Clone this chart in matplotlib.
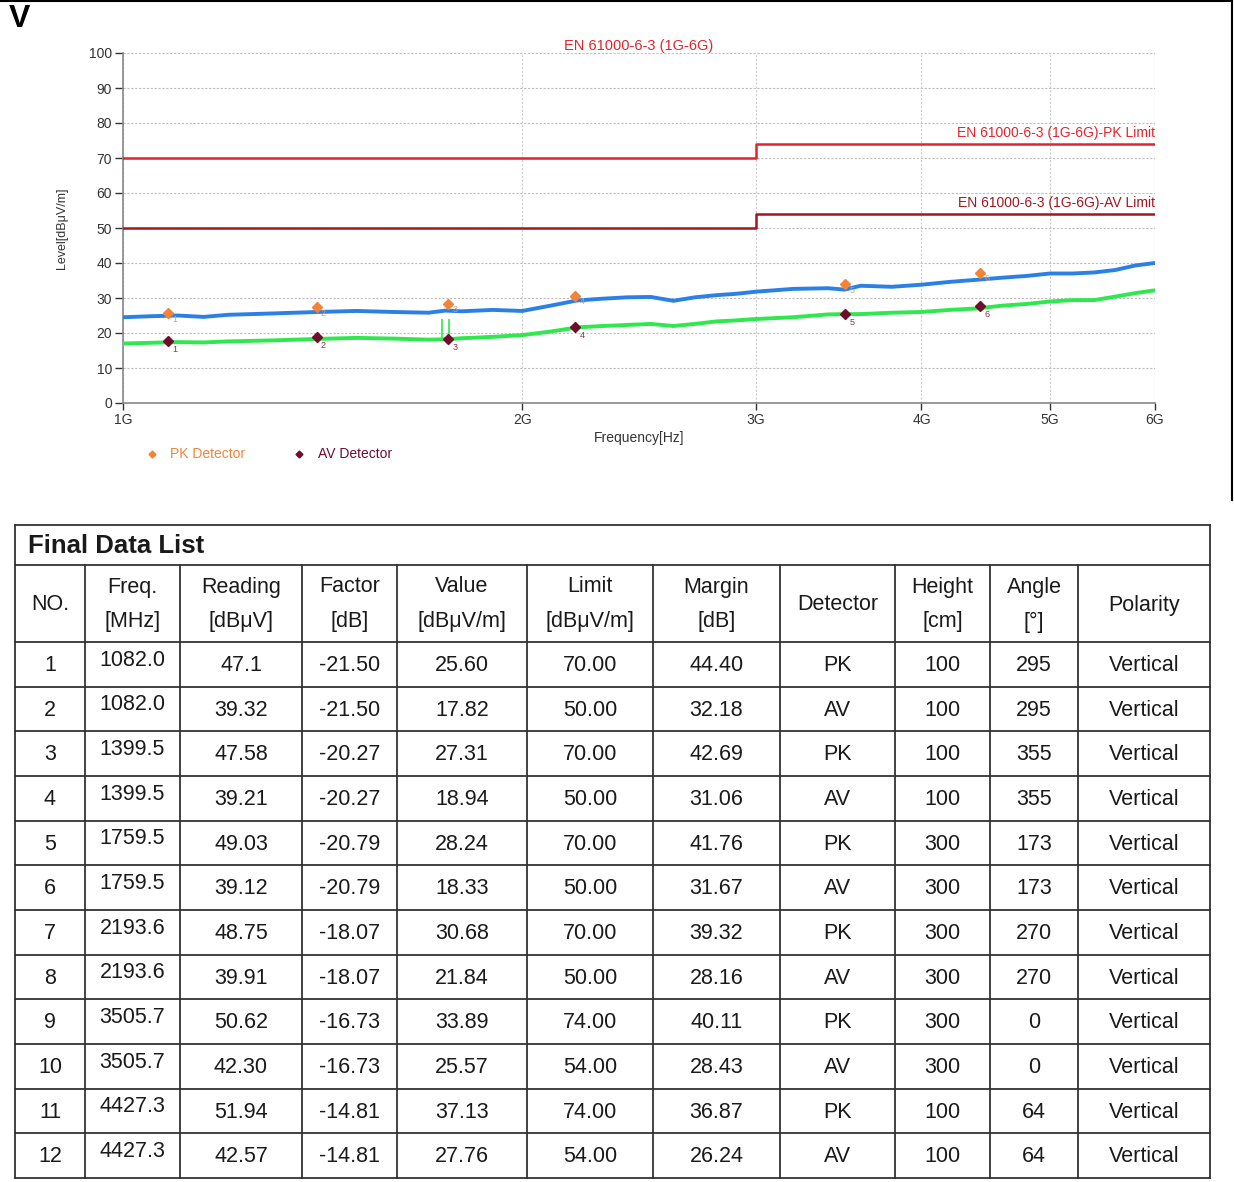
import numpy as np
import matplotlib
matplotlib.use("Agg")
import matplotlib.pyplot as plt

plt.rcParams['font.family'] = ['Liberation Sans', 'DejaVu Sans']

# ---- chart data ----
trace_freq = [1.00, 1.05, 1.10, 1.15, 1.20, 1.30, 1.40, 1.50, 1.60, 1.70, 1.75, 1.80, 1.90,
              2.00, 2.10, 2.20, 2.30, 2.40, 2.50, 2.60, 2.70, 2.80, 2.90, 3.00, 3.20, 3.40,
              3.50, 3.60, 3.80, 4.00, 4.20, 4.40, 4.60, 4.80, 5.00, 5.20, 5.40, 5.60, 5.80,
              6.00]
pk_trace = [24.5, 24.8, 25.0, 24.6, 25.2, 25.6, 26.0, 26.3, 26.0, 25.8, 26.4, 26.2, 26.6,
            26.3, 27.8, 29.3, 29.8, 30.2, 30.3, 29.2, 30.2, 30.8, 31.2, 31.8, 32.6, 32.8,
            32.4, 33.5, 33.2, 33.8, 34.6, 35.2, 35.8, 36.3, 37.0, 37.0, 37.3, 38.0, 39.3,
            40.0]
av_trace = [17.0, 17.2, 17.4, 17.3, 17.6, 17.9, 18.3, 18.6, 18.4, 18.1, 18.2, 18.5, 18.9,
            19.4, 20.4, 21.6, 22.0, 22.3, 22.6, 22.0, 22.6, 23.3, 23.6, 24.0, 24.5, 25.3,
            25.4, 25.4, 25.8, 26.0, 26.6, 27.0, 27.8, 28.3, 29.0, 29.4, 29.4, 30.4, 31.4,
            32.2]
# narrow spikes seen on the traces
av_spike_freq = [1.739, 1.760]
av_spike_top = [24.0, 24.0]
pk_spike_freq = [1.760]
pk_spike_top = [28.0]

limit_freq = [1.0, 3.0, 3.0, 6.0]
pk_limit = [70, 70, 74, 74]
av_limit = [50, 50, 54, 54]

pk_freq = [1.0820, 1.3995, 1.7595, 2.1936, 3.5057, 4.4273]
pk_level = [25.60, 27.31, 28.24, 30.68, 33.89, 37.13]
av_freq = [1.0820, 1.3995, 1.7595, 2.1936, 3.5057, 4.4273]
av_level = [17.82, 18.94, 18.33, 21.84, 25.57, 27.76]

# ---- table data ----
col_no = [str(i) for i in range(1, 13)]
col_freq = ["1082.0", "1082.0", "1399.5", "1399.5", "1759.5", "1759.5",
            "2193.6", "2193.6", "3505.7", "3505.7", "4427.3", "4427.3"]
col_reading = ["47.1", "39.32", "47.58", "39.21", "49.03", "39.12",
               "48.75", "39.91", "50.62", "42.30", "51.94", "42.57"]
col_factor = ["-21.50", "-21.50", "-20.27", "-20.27", "-20.79", "-20.79",
              "-18.07", "-18.07", "-16.73", "-16.73", "-14.81", "-14.81"]
col_value = ["25.60", "17.82", "27.31", "18.94", "28.24", "18.33",
             "30.68", "21.84", "33.89", "25.57", "37.13", "27.76"]
col_limit = ["70.00", "50.00", "70.00", "50.00", "70.00", "50.00",
             "70.00", "50.00", "74.00", "54.00", "74.00", "54.00"]
col_margin = ["44.40", "32.18", "42.69", "31.06", "41.76", "31.67",
              "39.32", "28.16", "40.11", "28.43", "36.87", "26.24"]
col_detector = ["PK", "AV"] * 6
col_height = ["100", "100", "100", "100", "300", "300", "300", "300", "300", "300", "100", "100"]
col_angle = ["295", "295", "355", "355", "173", "173", "270", "270", "0", "0", "64", "64"]
col_polarity = ["Vertical"] * 12
headers = [("NO.",), ("Freq.", "[MHz]"), ("Reading", "[dBμV]"), ("Factor", "[dB]"),
           ("Value", "[dBμV/m]"), ("Limit", "[dBμV/m]"), ("Margin", "[dB]"), ("Detector",),
           ("Height", "[cm]"), ("Angle", "[°]"), ("Polarity",)]

W, H = 1234, 1182
fig = plt.figure(figsize=(W / 100, H / 100), dpi=100)

# overlay axes in pixel coordinates for the table and loose text
ov = fig.add_axes([0, 0, 1, 1])
ov.set_xlim(0, W)
ov.set_ylim(H, 0)
ov.axis('off')

# chart axes
ax = fig.add_axes([123 / W, 1 - 403 / H, 1032 / W, 350 / H])
ax.set_xscale('log')
ax.set_xlim(1.0, 6.0)
ax.set_ylim(0, 100)

blue, green = '#2b80e6', '#2ee84e'
ax.plot(trace_freq, pk_trace, color=blue, lw=2.8, zorder=3)
ax.plot(trace_freq, av_trace, color=green, lw=2.8, zorder=3)
ax.vlines(av_spike_freq, 18.2, av_spike_top, color=green, lw=1.2, zorder=3)
ax.vlines(pk_spike_freq, 26.2, pk_spike_top, color=blue, lw=1.2, zorder=3)
ax.plot(limit_freq, pk_limit, color='#e3242b', lw=1.8, zorder=4)
ax.plot(limit_freq, av_limit, color='#a3161f', lw=1.8, zorder=4)

ax.plot(pk_freq, pk_level, 'D', color='#f2843a', ms=5.5, ls='none', zorder=5)
ax.plot(av_freq, av_level, 'D', color='#6e0d2c', ms=5.5, ls='none', zorder=5)
for i, (f, v) in enumerate(zip(av_freq, av_level)):
    ax.annotate(str(i + 1), (f, v), xytext=(3, -8), textcoords='offset points',
                fontsize=6.5, color='#8a3050', zorder=6)
    ax.annotate(str(i + 1), (pk_freq[i], pk_level[i]), xytext=(3, -6),
                textcoords='offset points', fontsize=6.5, color='#c8a090', zorder=6)

ax.set_xticks([1, 2, 3, 4, 5, 6])
ax.set_xticklabels(['1G', '2G', '3G', '4G', '5G', '6G'])
ax.xaxis.set_minor_locator(matplotlib.ticker.NullLocator())
ax.set_yticks(range(0, 101, 10))
ax.tick_params(axis='both', labelsize=10, colors='#333333', length=6, width=1)
ax.tick_params(axis='x', pad=2, length=5)
ax.tick_params(axis='y', pad=2)
ax.grid(axis='y', color='#bdbdbd', ls=(0, (2, 1.5)), lw=0.8)
ax.grid(axis='x', color='#cccccc', ls=(0, (2, 1.5)), lw=0.8)
for s in ['top', 'right']:
    ax.spines[s].set_visible(False)
for s in ['left', 'bottom']:
    ax.spines[s].set_color('#888888')
    ax.spines[s].set_linewidth(1.2)
ax.axvline(6.0, color='#dddddd', lw=0.8)

ax.set_xlabel('Frequency[Hz]', fontsize=10, color='#333333', labelpad=3)
ax.set_ylabel('Level[dBμV/m]', fontsize=9, color='#333333', labelpad=15)
ax.set_title('EN 61000-6-3 (1G-6G)', fontsize=10.5, color='#e3242b', pad=2)
ax.text(6.0, 77.2, 'EN 61000-6-3 (1G-6G)-PK Limit', ha='right', va='center',
        fontsize=10, color='#e3242b')
ax.text(6.0, 57.2, 'EN 61000-6-3 (1G-6G)-AV Limit', ha='right', va='center',
        fontsize=10, color='#a3161f')

# legend
ov.plot([152], [454], 'D', color='#f2843a', ms=3.5)
ov.text(170, 454, 'PK Detector', fontsize=10, color='#f2843a', va='center')
ov.plot([299], [454], 'D', color='#6e0d2c', ms=3.5)
ov.text(318, 454, 'AV Detector', fontsize=10, color='#6e0d2c', va='center')

# panel letter and border
ov.text(9, 19, 'V', fontsize=23, fontweight='bold', va='center', ha='left')
ov.plot([0, 1232], [1, 1], color='black', lw=1.5)
ov.plot([1232, 1232], [0, 500], color='black', lw=1.5)

# ---- table ----
cols_x = [15, 85, 180, 302, 397, 527, 653, 780, 895, 990, 1078, 1210]
t_top, t_head, t_data = 525, 565, 642
row_h = (1178 - t_data) / 12
t_bot = t_data + 12 * row_h
lc = '#333333'
tc = '#1a1a1a'
ov.plot([cols_x[0], cols_x[-1]], [t_top, t_top], color=lc, lw=1.3)
ov.plot([cols_x[0], cols_x[0]], [t_top, t_bot], color=lc, lw=1.3)
ov.plot([cols_x[-1], cols_x[-1]], [t_top, t_bot], color=lc, lw=1.3)
ov.plot([cols_x[0], cols_x[-1]], [t_head, t_head], color=lc, lw=1.3)
for x in cols_x[1:-1]:
    ov.plot([x, x], [t_head, t_bot], color=lc, lw=1.3)
for r in range(13):
    y = t_data + r * row_h
    ov.plot([cols_x[0], cols_x[-1]], [y, y], color=lc, lw=1.3)

ov.text(28, 546, 'Final Data List', fontsize=18.5, fontweight='bold', va='center', color=tc)

for c, hd in enumerate(headers):
    cx = (cols_x[c] + cols_x[c + 1]) / 2
    if len(hd) == 1:
        ov.text(cx, 605, hd[0], fontsize=15.5, ha='center', va='center', color=tc)
    else:
        ov.text(cx, 587, hd[0], fontsize=15.5, ha='center', va='center', color=tc)
        ov.text(cx, 622, hd[1], fontsize=15.5, ha='center', va='center', color=tc)

columns = [col_no, col_freq, col_reading, col_factor, col_value, col_limit,
           col_margin, col_detector, col_height, col_angle, col_polarity]
for c, vals in enumerate(columns):
    cx = (cols_x[c] + cols_x[c + 1]) / 2
    dy = -4 if c == 1 else 1
    for r, v in enumerate(vals):
        cy = t_data + (r + 0.5) * row_h + dy
        ov.text(cx, cy, v, fontsize=15.5, ha='center', va='center', color=tc)

fig.savefig('out.png', dpi=100)
